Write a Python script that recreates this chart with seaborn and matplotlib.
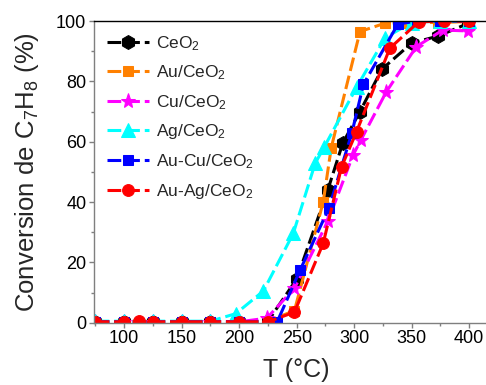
import numpy as np
import pandas as pd
import matplotlib
matplotlib.use("Agg")
import matplotlib.pyplot as plt
from matplotlib.ticker import MultipleLocator
import seaborn as sns

# Data (temperature in °C, conversion in %)
T_ceo2 = [75, 100, 125, 150, 175, 200, 225, 250, 277, 290, 305, 324, 350, 373, 399]
v_ceo2 = [0.3, 0.3, 0.3, 0.3, 0.3, 0.3, 0.5, 14.5, 44, 59.5, 70, 84, 92.7, 95, 99.2]

T_au = [75, 100, 125, 150, 175, 200, 225, 248, 273, 280, 305, 327, 347, 373, 399]
v_au = [0.3, 0.3, 0.3, 0.3, 0.3, 0.3, 0.5, 4, 40, 58, 96.5, 99.3, 99.5, 99.5, 99.8]

T_cu = [75, 100, 125, 150, 175, 200, 224, 248, 277, 299, 306, 328, 354, 377, 399]
v_cu = [0.3, 0.3, 0.3, 0.3, 0.3, 0.3, 1.5, 11.4, 33.6, 55.6, 60.7, 76.6, 91.5, 97, 96.7]

T_ag = [75, 100, 125, 150, 175, 197, 221, 247, 266, 274, 302, 327, 350, 375, 400]
v_ag = [0.5, 0.5, 0.5, 0.5, 0.5, 3, 10.5, 29.6, 52.8, 58.3, 78, 94.5, 99.5, 100, 100]

T_aucu = [75, 100, 125, 150, 175, 200, 233, 253, 278, 298, 308, 338, 355, 375, 400]
v_aucu = [0.3, 0.3, 0.3, 0.3, 0.3, 0.3, 0.3, 17.5, 38, 63, 79, 99, 100, 100, 100]

T_auag = [75, 100, 113, 125, 150, 175, 200, 225, 248, 273, 289, 302, 331, 356, 378, 400]
v_auag = [0.3, 0.3, 0.5, 0.3, 0.3, 0.3, 0.3, 0.3, 3.5, 26.3, 51.7, 63.3, 91, 99.7, 100, 100]

labels = ["CeO$_2$", "Au/CeO$_2$", "Cu/CeO$_2$", "Ag/CeO$_2$",
          "Au-Cu/CeO$_2$", "Au-Ag/CeO$_2$"]
series_T = [T_ceo2, T_au, T_cu, T_ag, T_aucu, T_auag]
series_v = [v_ceo2, v_au, v_cu, v_ag, v_aucu, v_auag]

colors = ["#000000", "#FF8000", "#FF00FF", "#00FFFF", "#0000FF", "#FF0000"]
markers = ["h", "s", "*", "^", "s", "o"]
msizes = [10, 7.5, 11, 9.5, 7.5, 8.5]

x_ticks = [100, 150, 200, 250, 300, 350, 400]
y_ticks = [0, 20, 40, 60, 80, 100]

sns.set_theme(style="ticks")
plt.rcParams.update({
    "font.family": ["Liberation Sans", "DejaVu Sans"],
    "mathtext.fontset": "custom",
    "mathtext.rm": "Liberation Sans",
    "mathtext.it": "Liberation Sans:italic",
    "mathtext.bf": "Liberation Sans:bold",
})

fig = plt.figure(figsize=(4.86, 3.85), dpi=100)
ax = fig.add_axes([94 / 486, 1 - 322.7 / 385, (498 - 94) / 486, (322.7 - 21) / 385])

for T, v, lab, c, m, ms in zip(series_T, series_v, labels, colors, markers, msizes):
    df = pd.DataFrame({"T": T, "v": v})
    sns.lineplot(data=df, x="T", y="v", color=c, marker=m, markersize=ms,
                 markeredgecolor=c, linewidth=2.2, linestyle=(0, (4.5, 1.6)),
                 label=lab, legend=False, ax=ax, sort=False)

ax.set_xlim(73.7, 425)
ax.set_ylim(0, 100)
ax.set_xticks(x_ticks)
ax.set_yticks(y_ticks)
ax.xaxis.set_minor_locator(MultipleLocator(25))
ax.yaxis.set_minor_locator(MultipleLocator(10))

grey = "#7f7f7f"
for side in ["left", "bottom"]:
    ax.spines[side].set_color(grey)
    ax.spines[side].set_linewidth(1.0)
ax.spines["top"].set_color("black")
ax.spines["top"].set_linewidth(1.0)
ax.spines["right"].set_visible(False)

ax.tick_params(axis="both", which="major", direction="out", length=3.5,
               width=1, color=grey, labelsize=13, labelcolor="black", pad=2)
ax.tick_params(axis="both", which="minor", direction="out", length=2.5,
               width=1, color=grey)

ax.set_xlabel("T (°C)", fontsize=18, labelpad=8)
ax.set_ylabel("Conversion de C$_7$H$_8$ (%)", fontsize=18.5, labelpad=11)

ax.legend(loc="upper left", frameon=False, fontsize=12.5, handlelength=2.4,
          handletextpad=0.4, labelspacing=0.62, borderaxespad=0.35,
          bbox_to_anchor=(0.0, 1.0))

fig.savefig("out.png", dpi=100, facecolor="white")
plt.close(fig)
